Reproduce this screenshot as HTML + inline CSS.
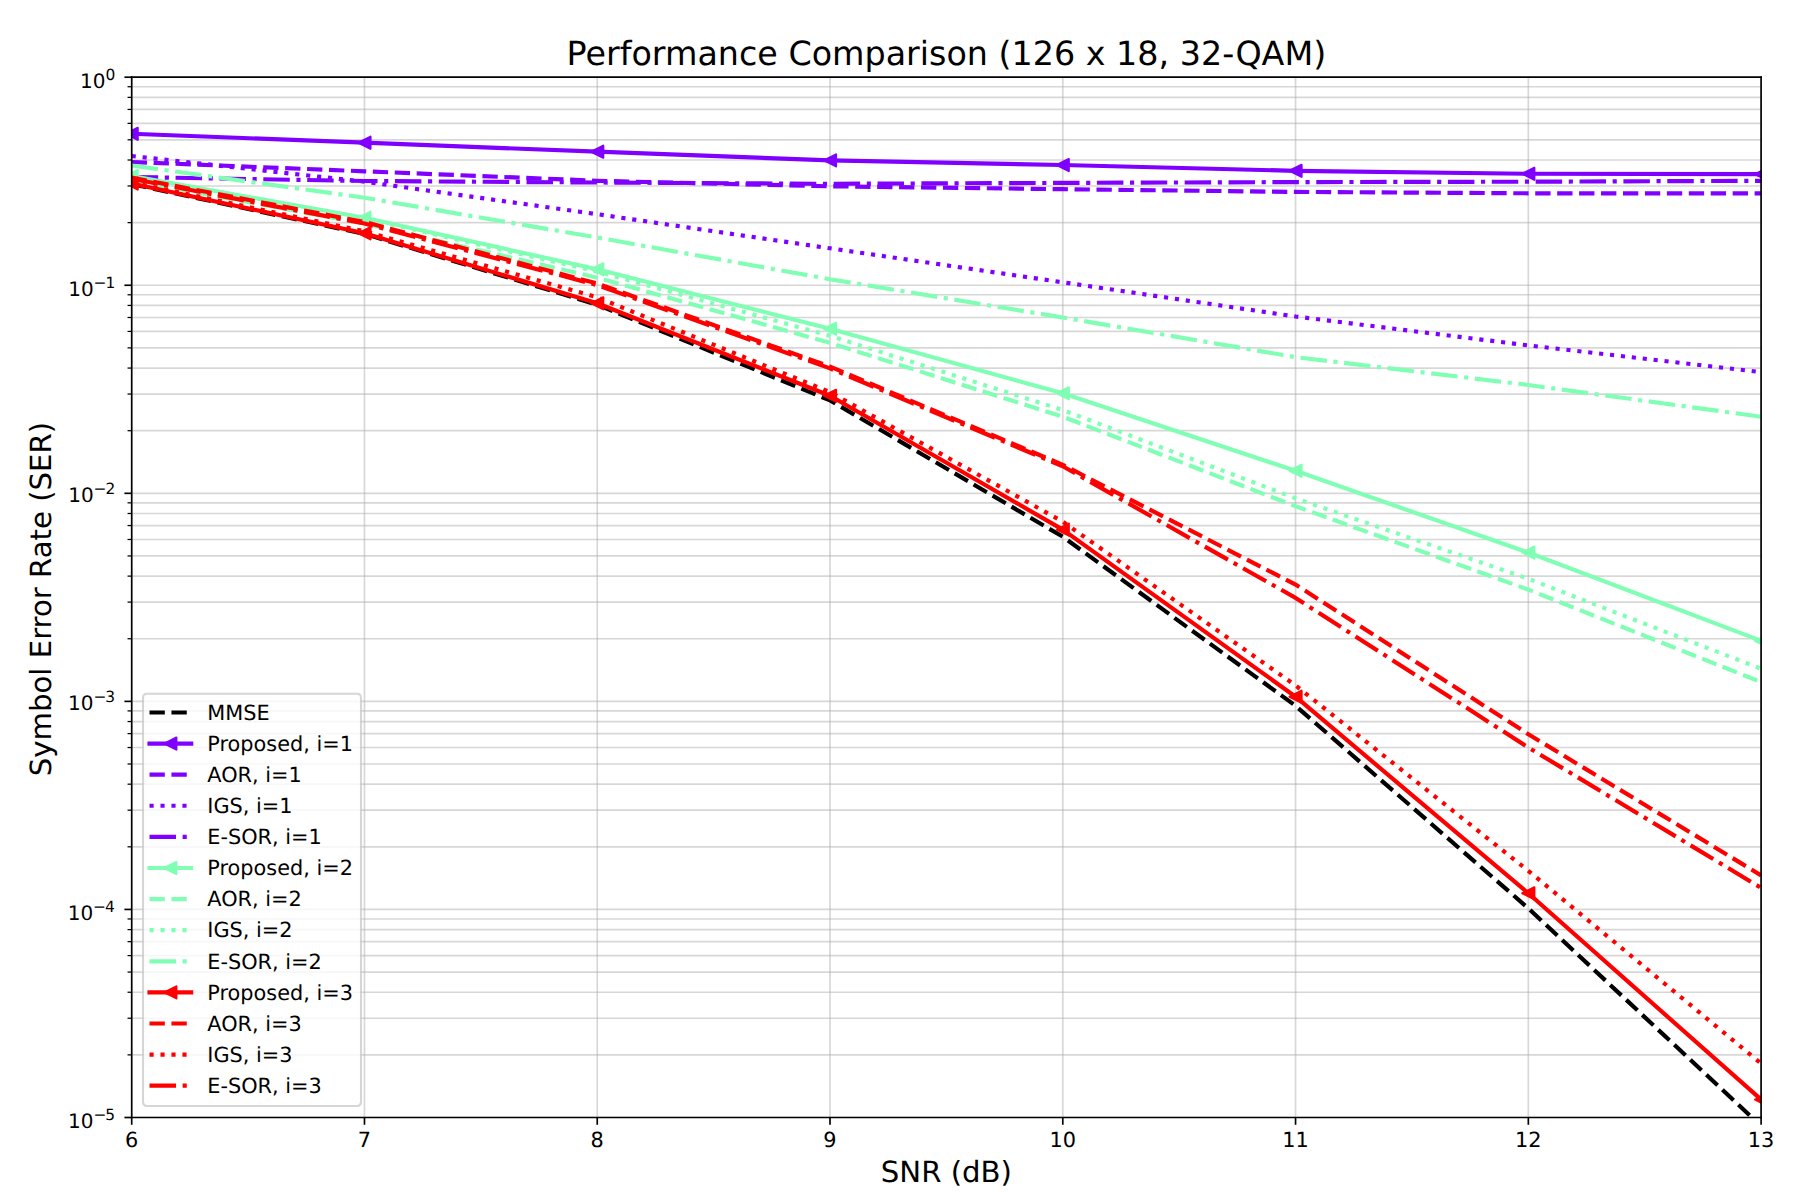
<!DOCTYPE html>
<html lang="en"><head><meta charset="utf-8"><title>Performance Comparison (126 x 18, 32-QAM)</title>
<style>html,body{margin:0;padding:0;background:#fff;}body{width:1798px;height:1200px;overflow:hidden;position:relative;font-family:"DejaVu Sans","Liberation Sans",sans-serif;}svg text{text-rendering:geometricPrecision;}</style>
</head><body>
<svg width="1798" height="1200" viewBox="0 0 863.04 576" preserveAspectRatio="none" style="display:block;position:absolute;left:0;top:0">
 <defs>
  <style type="text/css">*{stroke-linejoin: round; stroke-linecap: butt}</style>
 </defs>
 <g id="figure_1">
  <g id="patch_1">
   <path d="M 0 576 L 863.04 576 L 863.04 0 L 0 0 z
" style="fill: #ffffff"/>
  </g>
  <g id="axes_1">
   <g id="patch_2">
    <path d="M 63.216 536.4 L 845.328 536.4 L 845.328 37.056 L 63.216 37.056 z
" style="fill: #ffffff"/>
   </g>
   <g id="matplotlib.axis_1">
    <g id="xtick_1">
     <g id="line2d_1">
      <path d="M 63.216 536.4 L 63.216 37.056 
" clip-path="url(#p2b47aeeb16)" style="fill: none; stroke: #b0b0b0; stroke-opacity: 0.5; stroke-width: 0.8; stroke-linecap: square"/>
     </g>
     <g id="line2d_2">
      <defs>
       <path id="m74943a5d87" d="M 0 0 L 0 3.5 
" style="stroke: #000000; stroke-width: 0.8"/>
      </defs>
      <g>
       <use href="#m74943a5d87" x="63.216" y="536.4" style="stroke: #000000; stroke-width: 0.8"/>
      </g>
     </g>
     <g id="text_1">
      <text style="font-size: 10px; font-family: 'DejaVu Sans', 'Liberation Sans', sans-serif; text-anchor: middle" x="63.216" y="550.68">6</text>
     </g>
    </g>
    <g id="xtick_2">
     <g id="line2d_3">
      <path d="M 174.946286 536.4 L 174.946286 37.056 
" clip-path="url(#p2b47aeeb16)" style="fill: none; stroke: #b0b0b0; stroke-opacity: 0.5; stroke-width: 0.8; stroke-linecap: square"/>
     </g>
     <g id="line2d_4">
      <g>
       <use href="#m74943a5d87" x="174.946286" y="536.4" style="stroke: #000000; stroke-width: 0.8"/>
      </g>
     </g>
     <g id="text_2">
      <text style="font-size: 10px; font-family: 'DejaVu Sans', 'Liberation Sans', sans-serif; text-anchor: middle" x="174.946286" y="550.68">7</text>
     </g>
    </g>
    <g id="xtick_3">
     <g id="line2d_5">
      <path d="M 286.676571 536.4 L 286.676571 37.056 
" clip-path="url(#p2b47aeeb16)" style="fill: none; stroke: #b0b0b0; stroke-opacity: 0.5; stroke-width: 0.8; stroke-linecap: square"/>
     </g>
     <g id="line2d_6">
      <g>
       <use href="#m74943a5d87" x="286.676571" y="536.4" style="stroke: #000000; stroke-width: 0.8"/>
      </g>
     </g>
     <g id="text_3">
      <text style="font-size: 10px; font-family: 'DejaVu Sans', 'Liberation Sans', sans-serif; text-anchor: middle" x="286.676571" y="550.68">8</text>
     </g>
    </g>
    <g id="xtick_4">
     <g id="line2d_7">
      <path d="M 398.406857 536.4 L 398.406857 37.056 
" clip-path="url(#p2b47aeeb16)" style="fill: none; stroke: #b0b0b0; stroke-opacity: 0.5; stroke-width: 0.8; stroke-linecap: square"/>
     </g>
     <g id="line2d_8">
      <g>
       <use href="#m74943a5d87" x="398.406857" y="536.4" style="stroke: #000000; stroke-width: 0.8"/>
      </g>
     </g>
     <g id="text_4">
      <text style="font-size: 10px; font-family: 'DejaVu Sans', 'Liberation Sans', sans-serif; text-anchor: middle" x="398.406857" y="550.68">9</text>
     </g>
    </g>
    <g id="xtick_5">
     <g id="line2d_9">
      <path d="M 510.137143 536.4 L 510.137143 37.056 
" clip-path="url(#p2b47aeeb16)" style="fill: none; stroke: #b0b0b0; stroke-opacity: 0.5; stroke-width: 0.8; stroke-linecap: square"/>
     </g>
     <g id="line2d_10">
      <g>
       <use href="#m74943a5d87" x="510.137143" y="536.4" style="stroke: #000000; stroke-width: 0.8"/>
      </g>
     </g>
     <g id="text_5">
      <text style="font-size: 10px; font-family: 'DejaVu Sans', 'Liberation Sans', sans-serif; text-anchor: middle" x="510.137143" y="550.68">10</text>
     </g>
    </g>
    <g id="xtick_6">
     <g id="line2d_11">
      <path d="M 621.867429 536.4 L 621.867429 37.056 
" clip-path="url(#p2b47aeeb16)" style="fill: none; stroke: #b0b0b0; stroke-opacity: 0.5; stroke-width: 0.8; stroke-linecap: square"/>
     </g>
     <g id="line2d_12">
      <g>
       <use href="#m74943a5d87" x="621.867429" y="536.4" style="stroke: #000000; stroke-width: 0.8"/>
      </g>
     </g>
     <g id="text_6">
      <text style="font-size: 10px; font-family: 'DejaVu Sans', 'Liberation Sans', sans-serif; text-anchor: middle" x="621.867429" y="550.68">11</text>
     </g>
    </g>
    <g id="xtick_7">
     <g id="line2d_13">
      <path d="M 733.597714 536.4 L 733.597714 37.056 
" clip-path="url(#p2b47aeeb16)" style="fill: none; stroke: #b0b0b0; stroke-opacity: 0.5; stroke-width: 0.8; stroke-linecap: square"/>
     </g>
     <g id="line2d_14">
      <g>
       <use href="#m74943a5d87" x="733.597714" y="536.4" style="stroke: #000000; stroke-width: 0.8"/>
      </g>
     </g>
     <g id="text_7">
      <text style="font-size: 10px; font-family: 'DejaVu Sans', 'Liberation Sans', sans-serif; text-anchor: middle" x="733.597714" y="550.68">12</text>
     </g>
    </g>
    <g id="xtick_8">
     <g id="line2d_15">
      <path d="M 845.328 536.4 L 845.328 37.056 
" clip-path="url(#p2b47aeeb16)" style="fill: none; stroke: #b0b0b0; stroke-opacity: 0.5; stroke-width: 0.8; stroke-linecap: square"/>
     </g>
     <g id="line2d_16">
      <g>
       <use href="#m74943a5d87" x="845.328" y="536.4" style="stroke: #000000; stroke-width: 0.8"/>
      </g>
     </g>
     <g id="text_8">
      <text style="font-size: 10px; font-family: 'DejaVu Sans', 'Liberation Sans', sans-serif; text-anchor: middle" x="845.328" y="550.68">13</text>
     </g>
    </g>
    <g id="text_9">
     <text style="font-size: 14px; font-family: 'DejaVu Sans', 'Liberation Sans', sans-serif; text-anchor: middle" x="454.272" y="567.56">SNR (dB)</text>
    </g>
   </g>
   <g id="matplotlib.axis_2">
    <g id="ytick_1">
     <g id="line2d_17">
      <path d="M 63.216 536.4 L 845.328 536.4 
" clip-path="url(#p2b47aeeb16)" style="fill: none; stroke: #b0b0b0; stroke-opacity: 0.5; stroke-width: 0.8; stroke-linecap: square"/>
     </g>
     <g id="line2d_18">
      <defs>
       <path id="m22e966356b" d="M 0 0 L -3.5 0 
" style="stroke: #000000; stroke-width: 0.8"/>
      </defs>
      <g>
       <use href="#m22e966356b" x="63.216" y="536.4" style="stroke: #000000; stroke-width: 0.8"/>
      </g>
     </g>
     <g id="text_10">
      <g transform="translate(32.680677 541.488)">
       <text>
        <tspan x="0.000" y="-0.064" style="font-size: 9.6px; font-family: 'DejaVu Sans', 'Liberation Sans', sans-serif">1</tspan>
        <tspan x="6.110" y="-0.064" style="font-size: 9.6px; font-family: 'DejaVu Sans', 'Liberation Sans', sans-serif">0</tspan>
        <tspan x="12.150" y="-3.892" style="font-size: 7.4px; font-family: 'DejaVu Sans', 'Liberation Sans', sans-serif">−</tspan>
        <tspan x="17.870" y="-3.892" style="font-size: 7.4px; font-family: 'DejaVu Sans', 'Liberation Sans', sans-serif">5</tspan>
       </text>
      </g>
     </g>
    </g>
    <g id="ytick_2">
     <g id="line2d_19">
      <path d="M 63.216 436.5312 L 845.328 436.5312 
" clip-path="url(#p2b47aeeb16)" style="fill: none; stroke: #b0b0b0; stroke-opacity: 0.5; stroke-width: 0.8; stroke-linecap: square"/>
     </g>
     <g id="line2d_20">
      <g>
       <use href="#m22e966356b" x="63.216" y="436.5312" style="stroke: #000000; stroke-width: 0.8"/>
      </g>
     </g>
     <g id="text_11">
      <g transform="translate(32.493177 441.6192)">
       <text>
        <tspan x="0.000" y="-0.064" style="font-size: 9.6px; font-family: 'DejaVu Sans', 'Liberation Sans', sans-serif">1</tspan>
        <tspan x="6.110" y="-0.064" style="font-size: 9.6px; font-family: 'DejaVu Sans', 'Liberation Sans', sans-serif">0</tspan>
        <tspan x="12.150" y="-3.892" style="font-size: 7.4px; font-family: 'DejaVu Sans', 'Liberation Sans', sans-serif">−</tspan>
        <tspan x="17.870" y="-3.892" style="font-size: 7.4px; font-family: 'DejaVu Sans', 'Liberation Sans', sans-serif">4</tspan>
       </text>
      </g>
     </g>
    </g>
    <g id="ytick_3">
     <g id="line2d_21">
      <path d="M 63.216 336.6624 L 845.328 336.6624 
" clip-path="url(#p2b47aeeb16)" style="fill: none; stroke: #b0b0b0; stroke-opacity: 0.5; stroke-width: 0.8; stroke-linecap: square"/>
     </g>
     <g id="line2d_22">
      <g>
       <use href="#m22e966356b" x="63.216" y="336.6624" style="stroke: #000000; stroke-width: 0.8"/>
      </g>
     </g>
     <g id="text_12">
      <g transform="translate(32.680677 341.7504)">
       <text>
        <tspan x="0.000" y="-0.977" style="font-size: 9.6px; font-family: 'DejaVu Sans', 'Liberation Sans', sans-serif">1</tspan>
        <tspan x="6.110" y="-0.977" style="font-size: 9.6px; font-family: 'DejaVu Sans', 'Liberation Sans', sans-serif">0</tspan>
        <tspan x="12.150" y="-4.805" style="font-size: 7.4px; font-family: 'DejaVu Sans', 'Liberation Sans', sans-serif">−</tspan>
        <tspan x="17.870" y="-4.805" style="font-size: 7.4px; font-family: 'DejaVu Sans', 'Liberation Sans', sans-serif">3</tspan>
       </text>
      </g>
     </g>
    </g>
    <g id="ytick_4">
     <g id="line2d_23">
      <path d="M 63.216 236.7936 L 845.328 236.7936 
" clip-path="url(#p2b47aeeb16)" style="fill: none; stroke: #b0b0b0; stroke-opacity: 0.5; stroke-width: 0.8; stroke-linecap: square"/>
     </g>
     <g id="line2d_24">
      <g>
       <use href="#m22e966356b" x="63.216" y="236.7936" style="stroke: #000000; stroke-width: 0.8"/>
      </g>
     </g>
     <g id="text_13">
      <g transform="translate(32.748177 241.8816)">
       <text>
        <tspan x="0.000" y="-0.977" style="font-size: 9.6px; font-family: 'DejaVu Sans', 'Liberation Sans', sans-serif">1</tspan>
        <tspan x="6.110" y="-0.977" style="font-size: 9.6px; font-family: 'DejaVu Sans', 'Liberation Sans', sans-serif">0</tspan>
        <tspan x="12.150" y="-4.805" style="font-size: 7.4px; font-family: 'DejaVu Sans', 'Liberation Sans', sans-serif">−</tspan>
        <tspan x="17.870" y="-4.805" style="font-size: 7.4px; font-family: 'DejaVu Sans', 'Liberation Sans', sans-serif">2</tspan>
       </text>
      </g>
     </g>
    </g>
    <g id="ytick_5">
     <g id="line2d_25">
      <path d="M 63.216 136.9248 L 845.328 136.9248 
" clip-path="url(#p2b47aeeb16)" style="fill: none; stroke: #b0b0b0; stroke-opacity: 0.5; stroke-width: 0.8; stroke-linecap: square"/>
     </g>
     <g id="line2d_26">
      <g>
       <use href="#m22e966356b" x="63.216" y="136.9248" style="stroke: #000000; stroke-width: 0.8"/>
      </g>
     </g>
     <g id="text_14">
      <g transform="translate(32.748177 142.0128)">
       <text>
        <tspan x="0.000" y="-0.064" style="font-size: 9.6px; font-family: 'DejaVu Sans', 'Liberation Sans', sans-serif">1</tspan>
        <tspan x="6.110" y="-0.064" style="font-size: 9.6px; font-family: 'DejaVu Sans', 'Liberation Sans', sans-serif">0</tspan>
        <tspan x="12.150" y="-3.892" style="font-size: 7.4px; font-family: 'DejaVu Sans', 'Liberation Sans', sans-serif">−</tspan>
        <tspan x="17.870" y="-3.892" style="font-size: 7.4px; font-family: 'DejaVu Sans', 'Liberation Sans', sans-serif">1</tspan>
       </text>
      </g>
     </g>
    </g>
    <g id="ytick_6">
     <g id="line2d_27">
      <path d="M 63.216 37.056 L 845.328 37.056 
" clip-path="url(#p2b47aeeb16)" style="fill: none; stroke: #b0b0b0; stroke-opacity: 0.5; stroke-width: 0.8; stroke-linecap: square"/>
     </g>
     <g id="line2d_28">
      <g>
       <use href="#m22e966356b" x="63.216" y="37.056" style="stroke: #000000; stroke-width: 0.8"/>
      </g>
     </g>
     <g id="text_15">
      <g transform="translate(38.385141 43.044)">
       <text>
        <tspan x="0.000" y="-0.977" style="font-size: 9.6px; font-family: 'DejaVu Sans', 'Liberation Sans', sans-serif">1</tspan>
        <tspan x="6.110" y="-0.977" style="font-size: 9.6px; font-family: 'DejaVu Sans', 'Liberation Sans', sans-serif">0</tspan>
        <tspan x="12.290" y="-4.805" style="font-size: 7.4px; font-family: 'DejaVu Sans', 'Liberation Sans', sans-serif">0</tspan>
       </text>
      </g>
     </g>
    </g>
    <g id="ytick_7">
     <g id="line2d_29">
      <path d="M 63.216 506.336496 L 845.328 506.336496 
" clip-path="url(#p2b47aeeb16)" style="fill: none; stroke: #b0b0b0; stroke-opacity: 0.5; stroke-width: 0.8; stroke-linecap: square"/>
     </g>
     <g id="line2d_30">
      <defs>
       <path id="m7ee9acde3e" d="M 0 0 L -2 0 
" style="stroke: #000000; stroke-width: 0.6"/>
      </defs>
      <g>
       <use href="#m7ee9acde3e" x="63.216" y="506.336496" style="stroke: #000000; stroke-width: 0.6"/>
      </g>
     </g>
    </g>
    <g id="ytick_8">
     <g id="line2d_31">
      <path d="M 63.216 488.750473 L 845.328 488.750473 
" clip-path="url(#p2b47aeeb16)" style="fill: none; stroke: #b0b0b0; stroke-opacity: 0.5; stroke-width: 0.8; stroke-linecap: square"/>
     </g>
     <g id="line2d_32">
      <g>
       <use href="#m7ee9acde3e" x="63.216" y="488.750473" style="stroke: #000000; stroke-width: 0.6"/>
      </g>
     </g>
    </g>
    <g id="ytick_9">
     <g id="line2d_33">
      <path d="M 63.216 476.272991 L 845.328 476.272991 
" clip-path="url(#p2b47aeeb16)" style="fill: none; stroke: #b0b0b0; stroke-opacity: 0.5; stroke-width: 0.8; stroke-linecap: square"/>
     </g>
     <g id="line2d_34">
      <g>
       <use href="#m7ee9acde3e" x="63.216" y="476.272991" style="stroke: #000000; stroke-width: 0.6"/>
      </g>
     </g>
    </g>
    <g id="ytick_10">
     <g id="line2d_35">
      <path d="M 63.216 466.594704 L 845.328 466.594704 
" clip-path="url(#p2b47aeeb16)" style="fill: none; stroke: #b0b0b0; stroke-opacity: 0.5; stroke-width: 0.8; stroke-linecap: square"/>
     </g>
     <g id="line2d_36">
      <g>
       <use href="#m7ee9acde3e" x="63.216" y="466.594704" style="stroke: #000000; stroke-width: 0.6"/>
      </g>
     </g>
    </g>
    <g id="ytick_11">
     <g id="line2d_37">
      <path d="M 63.216 458.686968 L 845.328 458.686968 
" clip-path="url(#p2b47aeeb16)" style="fill: none; stroke: #b0b0b0; stroke-opacity: 0.5; stroke-width: 0.8; stroke-linecap: square"/>
     </g>
     <g id="line2d_38">
      <g>
       <use href="#m7ee9acde3e" x="63.216" y="458.686968" style="stroke: #000000; stroke-width: 0.6"/>
      </g>
     </g>
    </g>
    <g id="ytick_12">
     <g id="line2d_39">
      <path d="M 63.216 452.001073 L 845.328 452.001073 
" clip-path="url(#p2b47aeeb16)" style="fill: none; stroke: #b0b0b0; stroke-opacity: 0.5; stroke-width: 0.8; stroke-linecap: square"/>
     </g>
     <g id="line2d_40">
      <g>
       <use href="#m7ee9acde3e" x="63.216" y="452.001073" style="stroke: #000000; stroke-width: 0.6"/>
      </g>
     </g>
    </g>
    <g id="ytick_13">
     <g id="line2d_41">
      <path d="M 63.216 446.209487 L 845.328 446.209487 
" clip-path="url(#p2b47aeeb16)" style="fill: none; stroke: #b0b0b0; stroke-opacity: 0.5; stroke-width: 0.8; stroke-linecap: square"/>
     </g>
     <g id="line2d_42">
      <g>
       <use href="#m7ee9acde3e" x="63.216" y="446.209487" style="stroke: #000000; stroke-width: 0.6"/>
      </g>
     </g>
    </g>
    <g id="ytick_14">
     <g id="line2d_43">
      <path d="M 63.216 441.100946 L 845.328 441.100946 
" clip-path="url(#p2b47aeeb16)" style="fill: none; stroke: #b0b0b0; stroke-opacity: 0.5; stroke-width: 0.8; stroke-linecap: square"/>
     </g>
     <g id="line2d_44">
      <g>
       <use href="#m7ee9acde3e" x="63.216" y="441.100946" style="stroke: #000000; stroke-width: 0.6"/>
      </g>
     </g>
    </g>
    <g id="ytick_15">
     <g id="line2d_45">
      <path d="M 63.216 406.467696 L 845.328 406.467696 
" clip-path="url(#p2b47aeeb16)" style="fill: none; stroke: #b0b0b0; stroke-opacity: 0.5; stroke-width: 0.8; stroke-linecap: square"/>
     </g>
     <g id="line2d_46">
      <g>
       <use href="#m7ee9acde3e" x="63.216" y="406.467696" style="stroke: #000000; stroke-width: 0.6"/>
      </g>
     </g>
    </g>
    <g id="ytick_16">
     <g id="line2d_47">
      <path d="M 63.216 388.881673 L 845.328 388.881673 
" clip-path="url(#p2b47aeeb16)" style="fill: none; stroke: #b0b0b0; stroke-opacity: 0.5; stroke-width: 0.8; stroke-linecap: square"/>
     </g>
     <g id="line2d_48">
      <g>
       <use href="#m7ee9acde3e" x="63.216" y="388.881673" style="stroke: #000000; stroke-width: 0.6"/>
      </g>
     </g>
    </g>
    <g id="ytick_17">
     <g id="line2d_49">
      <path d="M 63.216 376.404191 L 845.328 376.404191 
" clip-path="url(#p2b47aeeb16)" style="fill: none; stroke: #b0b0b0; stroke-opacity: 0.5; stroke-width: 0.8; stroke-linecap: square"/>
     </g>
     <g id="line2d_50">
      <g>
       <use href="#m7ee9acde3e" x="63.216" y="376.404191" style="stroke: #000000; stroke-width: 0.6"/>
      </g>
     </g>
    </g>
    <g id="ytick_18">
     <g id="line2d_51">
      <path d="M 63.216 366.725904 L 845.328 366.725904 
" clip-path="url(#p2b47aeeb16)" style="fill: none; stroke: #b0b0b0; stroke-opacity: 0.5; stroke-width: 0.8; stroke-linecap: square"/>
     </g>
     <g id="line2d_52">
      <g>
       <use href="#m7ee9acde3e" x="63.216" y="366.725904" style="stroke: #000000; stroke-width: 0.6"/>
      </g>
     </g>
    </g>
    <g id="ytick_19">
     <g id="line2d_53">
      <path d="M 63.216 358.818168 L 845.328 358.818168 
" clip-path="url(#p2b47aeeb16)" style="fill: none; stroke: #b0b0b0; stroke-opacity: 0.5; stroke-width: 0.8; stroke-linecap: square"/>
     </g>
     <g id="line2d_54">
      <g>
       <use href="#m7ee9acde3e" x="63.216" y="358.818168" style="stroke: #000000; stroke-width: 0.6"/>
      </g>
     </g>
    </g>
    <g id="ytick_20">
     <g id="line2d_55">
      <path d="M 63.216 352.132273 L 845.328 352.132273 
" clip-path="url(#p2b47aeeb16)" style="fill: none; stroke: #b0b0b0; stroke-opacity: 0.5; stroke-width: 0.8; stroke-linecap: square"/>
     </g>
     <g id="line2d_56">
      <g>
       <use href="#m7ee9acde3e" x="63.216" y="352.132273" style="stroke: #000000; stroke-width: 0.6"/>
      </g>
     </g>
    </g>
    <g id="ytick_21">
     <g id="line2d_57">
      <path d="M 63.216 346.340687 L 845.328 346.340687 
" clip-path="url(#p2b47aeeb16)" style="fill: none; stroke: #b0b0b0; stroke-opacity: 0.5; stroke-width: 0.8; stroke-linecap: square"/>
     </g>
     <g id="line2d_58">
      <g>
       <use href="#m7ee9acde3e" x="63.216" y="346.340687" style="stroke: #000000; stroke-width: 0.6"/>
      </g>
     </g>
    </g>
    <g id="ytick_22">
     <g id="line2d_59">
      <path d="M 63.216 341.232146 L 845.328 341.232146 
" clip-path="url(#p2b47aeeb16)" style="fill: none; stroke: #b0b0b0; stroke-opacity: 0.5; stroke-width: 0.8; stroke-linecap: square"/>
     </g>
     <g id="line2d_60">
      <g>
       <use href="#m7ee9acde3e" x="63.216" y="341.232146" style="stroke: #000000; stroke-width: 0.6"/>
      </g>
     </g>
    </g>
    <g id="ytick_23">
     <g id="line2d_61">
      <path d="M 63.216 306.598896 L 845.328 306.598896 
" clip-path="url(#p2b47aeeb16)" style="fill: none; stroke: #b0b0b0; stroke-opacity: 0.5; stroke-width: 0.8; stroke-linecap: square"/>
     </g>
     <g id="line2d_62">
      <g>
       <use href="#m7ee9acde3e" x="63.216" y="306.598896" style="stroke: #000000; stroke-width: 0.6"/>
      </g>
     </g>
    </g>
    <g id="ytick_24">
     <g id="line2d_63">
      <path d="M 63.216 289.012873 L 845.328 289.012873 
" clip-path="url(#p2b47aeeb16)" style="fill: none; stroke: #b0b0b0; stroke-opacity: 0.5; stroke-width: 0.8; stroke-linecap: square"/>
     </g>
     <g id="line2d_64">
      <g>
       <use href="#m7ee9acde3e" x="63.216" y="289.012873" style="stroke: #000000; stroke-width: 0.6"/>
      </g>
     </g>
    </g>
    <g id="ytick_25">
     <g id="line2d_65">
      <path d="M 63.216 276.535391 L 845.328 276.535391 
" clip-path="url(#p2b47aeeb16)" style="fill: none; stroke: #b0b0b0; stroke-opacity: 0.5; stroke-width: 0.8; stroke-linecap: square"/>
     </g>
     <g id="line2d_66">
      <g>
       <use href="#m7ee9acde3e" x="63.216" y="276.535391" style="stroke: #000000; stroke-width: 0.6"/>
      </g>
     </g>
    </g>
    <g id="ytick_26">
     <g id="line2d_67">
      <path d="M 63.216 266.857104 L 845.328 266.857104 
" clip-path="url(#p2b47aeeb16)" style="fill: none; stroke: #b0b0b0; stroke-opacity: 0.5; stroke-width: 0.8; stroke-linecap: square"/>
     </g>
     <g id="line2d_68">
      <g>
       <use href="#m7ee9acde3e" x="63.216" y="266.857104" style="stroke: #000000; stroke-width: 0.6"/>
      </g>
     </g>
    </g>
    <g id="ytick_27">
     <g id="line2d_69">
      <path d="M 63.216 258.949368 L 845.328 258.949368 
" clip-path="url(#p2b47aeeb16)" style="fill: none; stroke: #b0b0b0; stroke-opacity: 0.5; stroke-width: 0.8; stroke-linecap: square"/>
     </g>
     <g id="line2d_70">
      <g>
       <use href="#m7ee9acde3e" x="63.216" y="258.949368" style="stroke: #000000; stroke-width: 0.6"/>
      </g>
     </g>
    </g>
    <g id="ytick_28">
     <g id="line2d_71">
      <path d="M 63.216 252.263473 L 845.328 252.263473 
" clip-path="url(#p2b47aeeb16)" style="fill: none; stroke: #b0b0b0; stroke-opacity: 0.5; stroke-width: 0.8; stroke-linecap: square"/>
     </g>
     <g id="line2d_72">
      <g>
       <use href="#m7ee9acde3e" x="63.216" y="252.263473" style="stroke: #000000; stroke-width: 0.6"/>
      </g>
     </g>
    </g>
    <g id="ytick_29">
     <g id="line2d_73">
      <path d="M 63.216 246.471887 L 845.328 246.471887 
" clip-path="url(#p2b47aeeb16)" style="fill: none; stroke: #b0b0b0; stroke-opacity: 0.5; stroke-width: 0.8; stroke-linecap: square"/>
     </g>
     <g id="line2d_74">
      <g>
       <use href="#m7ee9acde3e" x="63.216" y="246.471887" style="stroke: #000000; stroke-width: 0.6"/>
      </g>
     </g>
    </g>
    <g id="ytick_30">
     <g id="line2d_75">
      <path d="M 63.216 241.363346 L 845.328 241.363346 
" clip-path="url(#p2b47aeeb16)" style="fill: none; stroke: #b0b0b0; stroke-opacity: 0.5; stroke-width: 0.8; stroke-linecap: square"/>
     </g>
     <g id="line2d_76">
      <g>
       <use href="#m7ee9acde3e" x="63.216" y="241.363346" style="stroke: #000000; stroke-width: 0.6"/>
      </g>
     </g>
    </g>
    <g id="ytick_31">
     <g id="line2d_77">
      <path d="M 63.216 206.730096 L 845.328 206.730096 
" clip-path="url(#p2b47aeeb16)" style="fill: none; stroke: #b0b0b0; stroke-opacity: 0.5; stroke-width: 0.8; stroke-linecap: square"/>
     </g>
     <g id="line2d_78">
      <g>
       <use href="#m7ee9acde3e" x="63.216" y="206.730096" style="stroke: #000000; stroke-width: 0.6"/>
      </g>
     </g>
    </g>
    <g id="ytick_32">
     <g id="line2d_79">
      <path d="M 63.216 189.144073 L 845.328 189.144073 
" clip-path="url(#p2b47aeeb16)" style="fill: none; stroke: #b0b0b0; stroke-opacity: 0.5; stroke-width: 0.8; stroke-linecap: square"/>
     </g>
     <g id="line2d_80">
      <g>
       <use href="#m7ee9acde3e" x="63.216" y="189.144073" style="stroke: #000000; stroke-width: 0.6"/>
      </g>
     </g>
    </g>
    <g id="ytick_33">
     <g id="line2d_81">
      <path d="M 63.216 176.666591 L 845.328 176.666591 
" clip-path="url(#p2b47aeeb16)" style="fill: none; stroke: #b0b0b0; stroke-opacity: 0.5; stroke-width: 0.8; stroke-linecap: square"/>
     </g>
     <g id="line2d_82">
      <g>
       <use href="#m7ee9acde3e" x="63.216" y="176.666591" style="stroke: #000000; stroke-width: 0.6"/>
      </g>
     </g>
    </g>
    <g id="ytick_34">
     <g id="line2d_83">
      <path d="M 63.216 166.988304 L 845.328 166.988304 
" clip-path="url(#p2b47aeeb16)" style="fill: none; stroke: #b0b0b0; stroke-opacity: 0.5; stroke-width: 0.8; stroke-linecap: square"/>
     </g>
     <g id="line2d_84">
      <g>
       <use href="#m7ee9acde3e" x="63.216" y="166.988304" style="stroke: #000000; stroke-width: 0.6"/>
      </g>
     </g>
    </g>
    <g id="ytick_35">
     <g id="line2d_85">
      <path d="M 63.216 159.080568 L 845.328 159.080568 
" clip-path="url(#p2b47aeeb16)" style="fill: none; stroke: #b0b0b0; stroke-opacity: 0.5; stroke-width: 0.8; stroke-linecap: square"/>
     </g>
     <g id="line2d_86">
      <g>
       <use href="#m7ee9acde3e" x="63.216" y="159.080568" style="stroke: #000000; stroke-width: 0.6"/>
      </g>
     </g>
    </g>
    <g id="ytick_36">
     <g id="line2d_87">
      <path d="M 63.216 152.394673 L 845.328 152.394673 
" clip-path="url(#p2b47aeeb16)" style="fill: none; stroke: #b0b0b0; stroke-opacity: 0.5; stroke-width: 0.8; stroke-linecap: square"/>
     </g>
     <g id="line2d_88">
      <g>
       <use href="#m7ee9acde3e" x="63.216" y="152.394673" style="stroke: #000000; stroke-width: 0.6"/>
      </g>
     </g>
    </g>
    <g id="ytick_37">
     <g id="line2d_89">
      <path d="M 63.216 146.603087 L 845.328 146.603087 
" clip-path="url(#p2b47aeeb16)" style="fill: none; stroke: #b0b0b0; stroke-opacity: 0.5; stroke-width: 0.8; stroke-linecap: square"/>
     </g>
     <g id="line2d_90">
      <g>
       <use href="#m7ee9acde3e" x="63.216" y="146.603087" style="stroke: #000000; stroke-width: 0.6"/>
      </g>
     </g>
    </g>
    <g id="ytick_38">
     <g id="line2d_91">
      <path d="M 63.216 141.494546 L 845.328 141.494546 
" clip-path="url(#p2b47aeeb16)" style="fill: none; stroke: #b0b0b0; stroke-opacity: 0.5; stroke-width: 0.8; stroke-linecap: square"/>
     </g>
     <g id="line2d_92">
      <g>
       <use href="#m7ee9acde3e" x="63.216" y="141.494546" style="stroke: #000000; stroke-width: 0.6"/>
      </g>
     </g>
    </g>
    <g id="ytick_39">
     <g id="line2d_93">
      <path d="M 63.216 106.861296 L 845.328 106.861296 
" clip-path="url(#p2b47aeeb16)" style="fill: none; stroke: #b0b0b0; stroke-opacity: 0.5; stroke-width: 0.8; stroke-linecap: square"/>
     </g>
     <g id="line2d_94">
      <g>
       <use href="#m7ee9acde3e" x="63.216" y="106.861296" style="stroke: #000000; stroke-width: 0.6"/>
      </g>
     </g>
    </g>
    <g id="ytick_40">
     <g id="line2d_95">
      <path d="M 63.216 89.275273 L 845.328 89.275273 
" clip-path="url(#p2b47aeeb16)" style="fill: none; stroke: #b0b0b0; stroke-opacity: 0.5; stroke-width: 0.8; stroke-linecap: square"/>
     </g>
     <g id="line2d_96">
      <g>
       <use href="#m7ee9acde3e" x="63.216" y="89.275273" style="stroke: #000000; stroke-width: 0.6"/>
      </g>
     </g>
    </g>
    <g id="ytick_41">
     <g id="line2d_97">
      <path d="M 63.216 76.797791 L 845.328 76.797791 
" clip-path="url(#p2b47aeeb16)" style="fill: none; stroke: #b0b0b0; stroke-opacity: 0.5; stroke-width: 0.8; stroke-linecap: square"/>
     </g>
     <g id="line2d_98">
      <g>
       <use href="#m7ee9acde3e" x="63.216" y="76.797791" style="stroke: #000000; stroke-width: 0.6"/>
      </g>
     </g>
    </g>
    <g id="ytick_42">
     <g id="line2d_99">
      <path d="M 63.216 67.119504 L 845.328 67.119504 
" clip-path="url(#p2b47aeeb16)" style="fill: none; stroke: #b0b0b0; stroke-opacity: 0.5; stroke-width: 0.8; stroke-linecap: square"/>
     </g>
     <g id="line2d_100">
      <g>
       <use href="#m7ee9acde3e" x="63.216" y="67.119504" style="stroke: #000000; stroke-width: 0.6"/>
      </g>
     </g>
    </g>
    <g id="ytick_43">
     <g id="line2d_101">
      <path d="M 63.216 59.211768 L 845.328 59.211768 
" clip-path="url(#p2b47aeeb16)" style="fill: none; stroke: #b0b0b0; stroke-opacity: 0.5; stroke-width: 0.8; stroke-linecap: square"/>
     </g>
     <g id="line2d_102">
      <g>
       <use href="#m7ee9acde3e" x="63.216" y="59.211768" style="stroke: #000000; stroke-width: 0.6"/>
      </g>
     </g>
    </g>
    <g id="ytick_44">
     <g id="line2d_103">
      <path d="M 63.216 52.525873 L 845.328 52.525873 
" clip-path="url(#p2b47aeeb16)" style="fill: none; stroke: #b0b0b0; stroke-opacity: 0.5; stroke-width: 0.8; stroke-linecap: square"/>
     </g>
     <g id="line2d_104">
      <g>
       <use href="#m7ee9acde3e" x="63.216" y="52.525873" style="stroke: #000000; stroke-width: 0.6"/>
      </g>
     </g>
    </g>
    <g id="ytick_45">
     <g id="line2d_105">
      <path d="M 63.216 46.734287 L 845.328 46.734287 
" clip-path="url(#p2b47aeeb16)" style="fill: none; stroke: #b0b0b0; stroke-opacity: 0.5; stroke-width: 0.8; stroke-linecap: square"/>
     </g>
     <g id="line2d_106">
      <g>
       <use href="#m7ee9acde3e" x="63.216" y="46.734287" style="stroke: #000000; stroke-width: 0.6"/>
      </g>
     </g>
    </g>
    <g id="ytick_46">
     <g id="line2d_107">
      <path d="M 63.216 41.625746 L 845.328 41.625746 
" clip-path="url(#p2b47aeeb16)" style="fill: none; stroke: #b0b0b0; stroke-opacity: 0.5; stroke-width: 0.8; stroke-linecap: square"/>
     </g>
     <g id="line2d_108">
      <g>
       <use href="#m7ee9acde3e" x="63.216" y="41.625746" style="stroke: #000000; stroke-width: 0.6"/>
      </g>
     </g>
    </g>
    <g id="text_16">
     <text style="font-size: 14px; font-family: 'DejaVu Sans', 'Liberation Sans', sans-serif; text-anchor: middle" x="24.513177" y="287.52695" transform="rotate(-90 24.513177 287.52695)">Symbol Error Rate (SER)</text>
    </g>
   </g>
   <g id="line2d_109">
    <path d="M 63.216 88.368 L 174.946286 112.272 L 286.676571 146.256 L 398.406857 192.192 L 510.137143 257.616 L 621.867429 338.784 L 733.597714 435.984 L 845.328 540.48 
" clip-path="url(#p2b47aeeb16)" style="fill: none; stroke-dasharray: 7.3512,3.1789; stroke-dashoffset: 0; stroke: #000000; stroke-width: 2"/>
   </g>
   <g id="line2d_110">
    <path d="M 63.216 64.2 L 174.946286 68.496 L 286.676571 72.816 L 398.406857 76.992 L 510.137143 79.2 L 621.867429 81.984 L 733.597714 83.4 L 845.328 83.616 
" clip-path="url(#p2b47aeeb16)" style="fill: none; stroke: #8000ff; stroke-width: 2; stroke-linecap: square"/>
    <defs>
     <path id="m26abed546e" d="M -2.9 -0 L 2.9 2.9 L 2.9 -2.9 z
" style="stroke: #8000ff; stroke-linejoin: round"/>
    </defs>
    <g clip-path="url(#p2b47aeeb16)">
     <use href="#m26abed546e" x="63.216" y="64.2" style="fill: #8000ff; stroke: #8000ff; stroke-linejoin: round"/>
     <use href="#m26abed546e" x="174.946286" y="68.496" style="fill: #8000ff; stroke: #8000ff; stroke-linejoin: round"/>
     <use href="#m26abed546e" x="286.676571" y="72.816" style="fill: #8000ff; stroke: #8000ff; stroke-linejoin: round"/>
     <use href="#m26abed546e" x="398.406857" y="76.992" style="fill: #8000ff; stroke: #8000ff; stroke-linejoin: round"/>
     <use href="#m26abed546e" x="510.137143" y="79.2" style="fill: #8000ff; stroke: #8000ff; stroke-linejoin: round"/>
     <use href="#m26abed546e" x="621.867429" y="81.984" style="fill: #8000ff; stroke: #8000ff; stroke-linejoin: round"/>
     <use href="#m26abed546e" x="733.597714" y="83.4" style="fill: #8000ff; stroke: #8000ff; stroke-linejoin: round"/>
     <use href="#m26abed546e" x="845.328" y="83.616" style="fill: #8000ff; stroke: #8000ff; stroke-linejoin: round"/>
    </g>
   </g>
   <g id="line2d_111">
    <path d="M 63.216 77.76 L 174.946286 82.224 L 286.676571 86.784 L 398.406857 89.424 L 510.137143 90.816 L 621.867429 92.112 L 733.597714 92.784 L 845.328 92.784 
" clip-path="url(#p2b47aeeb16)" style="fill: none; stroke-dasharray: 7.3512,3.1789; stroke-dashoffset: 0; stroke: #8000ff; stroke-width: 2"/>
   </g>
   <g id="line2d_112">
    <path d="M 63.216 74.88 L 174.946286 87.216 L 286.676571 102.816 L 398.406857 119.184 L 510.137143 135.504 L 621.867429 151.92 L 733.597714 165.792 L 845.328 178.608 
" clip-path="url(#p2b47aeeb16)" style="fill: none; stroke-dasharray: 1.9868,3.2782; stroke-dashoffset: 0; stroke: #8000ff; stroke-width: 2"/>
   </g>
   <g id="line2d_113">
    <path d="M 63.216 84.96 L 174.946286 86.88 L 286.676571 87.6 L 398.406857 88.224 L 510.137143 87.792 L 621.867429 87.408 L 733.597714 87.216 L 845.328 86.784 
" clip-path="url(#p2b47aeeb16)" style="fill: none; stroke-dasharray: 12.7155,3.1789,1.9868,3.1789; stroke-dashoffset: 0; stroke: #8000ff; stroke-width: 2"/>
   </g>
   <g id="line2d_114">
    <path d="M 63.216 84.48 L 174.946286 104.496 L 286.676571 129.264 L 398.406857 157.8 L 510.137143 188.784 L 621.867429 225.984 L 733.597714 265.2 L 845.328 307.584 
" clip-path="url(#p2b47aeeb16)" style="fill: none; stroke: #80ffb4; stroke-width: 2; stroke-linecap: square"/>
    <defs>
     <path id="mf772b2d812" d="M -2.9 -0 L 2.9 2.9 L 2.9 -2.9 z
" style="stroke: #80ffb4; stroke-linejoin: round"/>
    </defs>
    <g clip-path="url(#p2b47aeeb16)">
     <use href="#mf772b2d812" x="63.216" y="84.48" style="fill: #80ffb4; stroke: #80ffb4; stroke-linejoin: round"/>
     <use href="#mf772b2d812" x="174.946286" y="104.496" style="fill: #80ffb4; stroke: #80ffb4; stroke-linejoin: round"/>
     <use href="#mf772b2d812" x="286.676571" y="129.264" style="fill: #80ffb4; stroke: #80ffb4; stroke-linejoin: round"/>
     <use href="#mf772b2d812" x="398.406857" y="157.8" style="fill: #80ffb4; stroke: #80ffb4; stroke-linejoin: round"/>
     <use href="#mf772b2d812" x="510.137143" y="188.784" style="fill: #80ffb4; stroke: #80ffb4; stroke-linejoin: round"/>
     <use href="#mf772b2d812" x="621.867429" y="225.984" style="fill: #80ffb4; stroke: #80ffb4; stroke-linejoin: round"/>
     <use href="#mf772b2d812" x="733.597714" y="265.2" style="fill: #80ffb4; stroke: #80ffb4; stroke-linejoin: round"/>
     <use href="#mf772b2d812" x="845.328" y="307.584" style="fill: #80ffb4; stroke: #80ffb4; stroke-linejoin: round"/>
    </g>
   </g>
   <g id="line2d_115">
    <path d="M 63.216 86.64 L 174.946286 107.28 L 286.676571 133.296 L 398.406857 164.592 L 510.137143 200.016 L 621.867429 243 L 733.597714 283.008 L 845.328 327.408 
" clip-path="url(#p2b47aeeb16)" style="fill: none; stroke-dasharray: 7.3512,3.1789; stroke-dashoffset: 0; stroke: #80ffb4; stroke-width: 2"/>
   </g>
   <g id="line2d_116">
    <path d="M 63.216 84.864 L 174.946286 104.88 L 286.676571 130.32 L 398.406857 161.184 L 510.137143 196.8 L 621.867429 239.184 L 733.597714 277.8 L 845.328 321 
" clip-path="url(#p2b47aeeb16)" style="fill: none; stroke-dasharray: 1.9868,3.2782; stroke-dashoffset: 0; stroke: #80ffb4; stroke-width: 2"/>
   </g>
   <g id="line2d_117">
    <path d="M 63.216 79.44 L 174.946286 94.896 L 286.676571 114 L 398.406857 134.016 L 510.137143 152.4 L 621.867429 171.408 L 733.597714 184.8 L 845.328 200.016 
" clip-path="url(#p2b47aeeb16)" style="fill: none; stroke-dasharray: 12.7155,3.1789,1.9868,3.1789; stroke-dashoffset: 0; stroke: #80ffb4; stroke-width: 2"/>
   </g>
   <g id="line2d_118">
    <path d="M 63.216 88.08 L 174.946286 111.984 L 286.676571 145.584 L 398.406857 189.984 L 510.137143 254.208 L 621.867429 334.416 L 733.597714 428.784 L 845.328 527.808 
" clip-path="url(#p2b47aeeb16)" style="fill: none; stroke: #ff0000; stroke-width: 2; stroke-linecap: square"/>
    <defs>
     <path id="me34e0945fc" d="M -2.9 -0 L 2.9 2.9 L 2.9 -2.9 z
" style="stroke: #ff0000; stroke-linejoin: round"/>
    </defs>
    <g clip-path="url(#p2b47aeeb16)">
     <use href="#me34e0945fc" x="63.216" y="88.08" style="fill: #ff0000; stroke: #ff0000; stroke-linejoin: round"/>
     <use href="#me34e0945fc" x="174.946286" y="111.984" style="fill: #ff0000; stroke: #ff0000; stroke-linejoin: round"/>
     <use href="#me34e0945fc" x="286.676571" y="145.584" style="fill: #ff0000; stroke: #ff0000; stroke-linejoin: round"/>
     <use href="#me34e0945fc" x="398.406857" y="189.984" style="fill: #ff0000; stroke: #ff0000; stroke-linejoin: round"/>
     <use href="#me34e0945fc" x="510.137143" y="254.208" style="fill: #ff0000; stroke: #ff0000; stroke-linejoin: round"/>
     <use href="#me34e0945fc" x="621.867429" y="334.416" style="fill: #ff0000; stroke: #ff0000; stroke-linejoin: round"/>
     <use href="#me34e0945fc" x="733.597714" y="428.784" style="fill: #ff0000; stroke: #ff0000; stroke-linejoin: round"/>
     <use href="#me34e0945fc" x="845.328" y="527.808" style="fill: #ff0000; stroke: #ff0000; stroke-linejoin: round"/>
    </g>
   </g>
   <g id="line2d_119">
    <path d="M 63.216 85.248 L 174.946286 106.56 L 286.676571 136.08 L 398.406857 175.968 L 510.137143 223.104 L 621.867429 280.608 L 733.597714 352.416 L 845.328 420.192 
" clip-path="url(#p2b47aeeb16)" style="fill: none; stroke-dasharray: 7.3512,3.1789; stroke-dashoffset: 0; stroke: #ff0000; stroke-width: 2"/>
   </g>
   <g id="line2d_120">
    <path d="M 63.216 87.6 L 174.946286 111.024 L 286.676571 142.704 L 398.406857 188.208 L 510.137143 250.416 L 621.867429 328.992 L 733.597714 417.984 L 845.328 510.48 
" clip-path="url(#p2b47aeeb16)" style="fill: none; stroke-dasharray: 1.9868,3.2782; stroke-dashoffset: 0; stroke: #ff0000; stroke-width: 2"/>
   </g>
   <g id="line2d_121">
    <path d="M 63.216 85.824 L 174.946286 107.28 L 286.676571 136.848 L 398.406857 176.832 L 510.137143 223.824 L 621.867429 286.992 L 733.597714 358.8 L 845.328 426.192 
" clip-path="url(#p2b47aeeb16)" style="fill: none; stroke-dasharray: 12.7155,3.1789,1.9868,3.1789; stroke-dashoffset: 0; stroke: #ff0000; stroke-width: 2"/>
   </g>
   <g id="patch_3">
    <path d="M 63.216 536.4 L 63.216 37.056 
" style="fill: none; stroke: #000000; stroke-width: 0.8; stroke-linejoin: round; stroke-linecap: square"/>
   </g>
   <g id="patch_4">
    <path d="M 845.328 536.4 L 845.328 37.056 
" style="fill: none; stroke: #000000; stroke-width: 0.8; stroke-linejoin: round; stroke-linecap: square"/>
   </g>
   <g id="patch_5">
    <path d="M 63.216 536.4 L 845.328 536.4 
" style="fill: none; stroke: #000000; stroke-width: 0.8; stroke-linejoin: round; stroke-linecap: square"/>
   </g>
   <g id="patch_6">
    <path d="M 63.216 37.056 L 845.328 37.056 
" style="fill: none; stroke: #000000; stroke-width: 0.8; stroke-linejoin: round; stroke-linecap: square"/>
   </g>
   <g id="text_17">
    <text style="font-size: 16px; font-family: 'DejaVu Sans', 'Liberation Sans', sans-serif; text-anchor: middle" x="454.272" y="31.056">Performance Comparison (126 x 18, 32-QAM)</text>
   </g>
   <g id="legend_1">
    <g id="patch_7">
     <path d="M 70.64 530.88 L 171.28 530.88 Q 173.28 530.88 173.28 528.88 L 173.28 334.976 Q 173.28 332.976 171.28 332.976 L 70.64 332.976 Q 68.64 332.976 68.64 334.976 L 68.64 528.88 Q 68.64 530.88 70.64 530.88 z" style="fill: #ffffff; opacity: 0.8; stroke: #cccccc; stroke-linejoin: round"/>
    </g><g transform="translate(-0.45 -0.84)">
    <g id="line2d_122">
     <path d="M 72.216 342.82 L 82.216 342.82 L 92.216 342.82 
" style="fill: none; stroke-dasharray: 7.3512,3.1789; stroke-dashoffset: 0; stroke: #000000; stroke-width: 2"/>
    </g>
    <g id="text_18">
     <text style="font-size: 10px; font-family: 'DejaVu Sans', 'Liberation Sans', sans-serif; text-anchor: start" x="99.966" y="346.32">MMSE</text>
    </g>
    <g id="line2d_123">
     <path d="M 72.216 357.75 L 82.216 357.75 L 92.216 357.75 
" style="fill: none; stroke: #8000ff; stroke-width: 2; stroke-linecap: square"/>
     <g>
      <use href="#m26abed546e" x="82.216" y="357.75" style="fill: #8000ff; stroke: #8000ff; stroke-linejoin: round"/>
     </g>
    </g>
    <g id="text_19">
     <text style="font-size: 10px; font-family: 'DejaVu Sans', 'Liberation Sans', sans-serif; text-anchor: start" x="99.966" y="361.25">Proposed, i=1</text>
    </g>
    <g id="line2d_124">
     <path d="M 72.216 372.68 L 82.216 372.68 L 92.216 372.68 
" style="fill: none; stroke-dasharray: 7.3512,3.1789; stroke-dashoffset: 0; stroke: #8000ff; stroke-width: 2"/>
    </g>
    <g id="text_20">
     <text style="font-size: 10px; font-family: 'DejaVu Sans', 'Liberation Sans', sans-serif; text-anchor: start" x="99.966" y="376.18">AOR, i=1</text>
    </g>
    <g id="line2d_125">
     <path d="M 72.216 387.61 L 82.216 387.61 L 92.216 387.61 
" style="fill: none; stroke-dasharray: 1.9868,3.2782; stroke-dashoffset: 0; stroke: #8000ff; stroke-width: 2"/>
    </g>
    <g id="text_21">
     <text style="font-size: 10px; font-family: 'DejaVu Sans', 'Liberation Sans', sans-serif; text-anchor: start" x="99.966" y="391.11">IGS, i=1</text>
    </g>
    <g id="line2d_126">
     <path d="M 72.216 402.54 L 82.216 402.54 L 92.216 402.54 
" style="fill: none; stroke-dasharray: 12.7155,3.1789,1.9868,3.1789; stroke-dashoffset: 0; stroke: #8000ff; stroke-width: 2"/>
    </g>
    <g id="text_22">
     <text style="font-size: 10px; font-family: 'DejaVu Sans', 'Liberation Sans', sans-serif; text-anchor: start" x="99.966" y="406.04">E-SOR, i=1</text>
    </g>
    <g id="line2d_127">
     <path d="M 72.216 417.47 L 82.216 417.47 L 92.216 417.47 
" style="fill: none; stroke: #80ffb4; stroke-width: 2; stroke-linecap: square"/>
     <g>
      <use href="#mf772b2d812" x="82.216" y="417.47" style="fill: #80ffb4; stroke: #80ffb4; stroke-linejoin: round"/>
     </g>
    </g>
    <g id="text_23">
     <text style="font-size: 10px; font-family: 'DejaVu Sans', 'Liberation Sans', sans-serif; text-anchor: start" x="99.966" y="420.97">Proposed, i=2</text>
    </g>
    <g id="line2d_128">
     <path d="M 72.216 432.4 L 82.216 432.4 L 92.216 432.4 
" style="fill: none; stroke-dasharray: 7.3512,3.1789; stroke-dashoffset: 0; stroke: #80ffb4; stroke-width: 2"/>
    </g>
    <g id="text_24">
     <text style="font-size: 10px; font-family: 'DejaVu Sans', 'Liberation Sans', sans-serif; text-anchor: start" x="99.966" y="435.9">AOR, i=2</text>
    </g>
    <g id="line2d_129">
     <path d="M 72.216 447.33 L 82.216 447.33 L 92.216 447.33 
" style="fill: none; stroke-dasharray: 1.9868,3.2782; stroke-dashoffset: 0; stroke: #80ffb4; stroke-width: 2"/>
    </g>
    <g id="text_25">
     <text style="font-size: 10px; font-family: 'DejaVu Sans', 'Liberation Sans', sans-serif; text-anchor: start" x="99.966" y="450.83">IGS, i=2</text>
    </g>
    <g id="line2d_130">
     <path d="M 72.216 462.26 L 82.216 462.26 L 92.216 462.26 
" style="fill: none; stroke-dasharray: 12.7155,3.1789,1.9868,3.1789; stroke-dashoffset: 0; stroke: #80ffb4; stroke-width: 2"/>
    </g>
    <g id="text_26">
     <text style="font-size: 10px; font-family: 'DejaVu Sans', 'Liberation Sans', sans-serif; text-anchor: start" x="99.966" y="465.76">E-SOR, i=2</text>
    </g>
    <g id="line2d_131">
     <path d="M 72.216 477.19 L 82.216 477.19 L 92.216 477.19 
" style="fill: none; stroke: #ff0000; stroke-width: 2; stroke-linecap: square"/>
     <g>
      <use href="#me34e0945fc" x="82.216" y="477.19" style="fill: #ff0000; stroke: #ff0000; stroke-linejoin: round"/>
     </g>
    </g>
    <g id="text_27">
     <text style="font-size: 10px; font-family: 'DejaVu Sans', 'Liberation Sans', sans-serif; text-anchor: start" x="99.966" y="480.69">Proposed, i=3</text>
    </g>
    <g id="line2d_132">
     <path d="M 72.216 492.12 L 82.216 492.12 L 92.216 492.12 
" style="fill: none; stroke-dasharray: 7.3512,3.1789; stroke-dashoffset: 0; stroke: #ff0000; stroke-width: 2"/>
    </g>
    <g id="text_28">
     <text style="font-size: 10px; font-family: 'DejaVu Sans', 'Liberation Sans', sans-serif; text-anchor: start" x="99.966" y="495.62">AOR, i=3</text>
    </g>
    <g id="line2d_133">
     <path d="M 72.216 507.05 L 82.216 507.05 L 92.216 507.05 
" style="fill: none; stroke-dasharray: 1.9868,3.2782; stroke-dashoffset: 0; stroke: #ff0000; stroke-width: 2"/>
    </g>
    <g id="text_29">
     <text style="font-size: 10px; font-family: 'DejaVu Sans', 'Liberation Sans', sans-serif; text-anchor: start" x="99.966" y="510.55">IGS, i=3</text>
    </g>
    <g id="line2d_134">
     <path d="M 72.216 521.98 L 82.216 521.98 L 92.216 521.98 
" style="fill: none; stroke-dasharray: 12.7155,3.1789,1.9868,3.1789; stroke-dashoffset: 0; stroke: #ff0000; stroke-width: 2"/>
    </g>
    <g id="text_30">
     <text style="font-size: 10px; font-family: 'DejaVu Sans', 'Liberation Sans', sans-serif; text-anchor: start" x="99.966" y="525.48">E-SOR, i=3</text>
    </g></g>
   </g>
  </g>
 </g>
 <defs>
  <clipPath id="p2b47aeeb16">
   <rect x="63.216" y="37.056" width="782.112" height="499.344"/>
  </clipPath>
 </defs>
</svg>

</body></html>
